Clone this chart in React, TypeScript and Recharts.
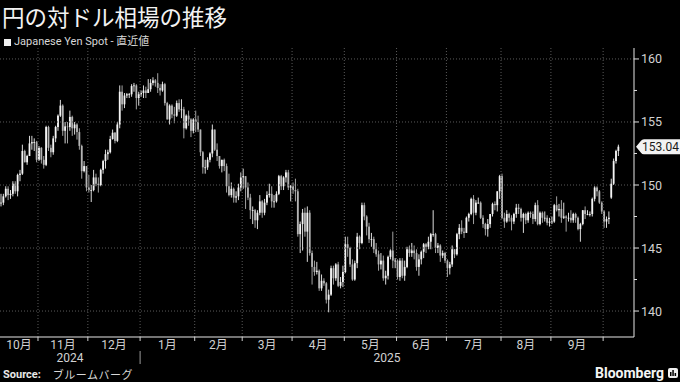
import { ComposedChart, Bar, XAxis, YAxis, ReferenceLine } from "recharts";

// month axis (trading days per month, Oct 2024 .. Oct 2025)
const monthLabels = ["10月", "11月", "12月", "1月", "2月", "3月", "4月", "5月", "6月", "7月", "8月", "9月", ""];
const monthDays = [16, 21, 22, 23, 20, 21, 22, 22, 21, 23, 21, 22, 7];
const yearLabels = ["2024", "2025"];
const yearFirstMonth = [0, 3];

const priceTicks = [140, 145, 150, 155, 160];
const minorTicks = [142.5, 147.5, 152.5, 157.5];
const lastPrice = 153.04;

// daily USD/JPY candles
const open = [
  148.6, 148.6, 149.1, 149.7, 149.2, 149.3, 150.1, 149.5, 150.8, 150.9, 152.7, 151.8, 152.3, 153.3, 153.4, 153.4,
  152.0, 152.95, 152.0, 151.6, 154.6, 152.95, 152.6, 153.7, 154.6, 155.5, 156.3, 154.3, 154.65, 154.6, 155.4, 154.5, 154.8, 154.2, 153.1, 151.1, 151.5,
  149.8, 149.6, 149.6, 150.6, 150.1, 150.0, 151.2, 151.9, 152.45, 152.6, 153.65, 154.15, 153.5, 154.8, 157.4, 156.4, 157.1, 157.2, 157.2, 157.85, 157.9, 156.9,
  157.2, 157.3, 157.5, 157.3, 157.6, 158.1, 158.3, 158.1, 157.7, 157.5, 158.0, 156.5, 155.2, 156.3, 155.6, 155.5, 156.5, 156.0, 156.0, 154.5, 155.5, 155.2, 154.3,
  155.2, 155.0, 154.4, 152.6, 151.4, 151.4, 152.0, 152.5, 154.4, 152.8, 152.3, 151.5, 152.0, 151.5, 149.9, 149.2, 149.7, 149.0, 149.1, 149.8,
  150.6, 150.7, 149.8, 149.0, 148.0, 148.0, 147.2, 147.8, 148.7, 147.8, 148.6, 149.2, 149.3, 148.7, 148.7, 149.3, 150.7, 149.9, 150.6, 151.0, 149.8,
  149.9, 149.6, 149.5, 146.1, 146.9, 147.8, 146.3, 147.8, 144.6, 143.5, 143.1, 143.2, 141.8, 142.4, 142.2, 140.9, 141.3, 143.4, 142.6, 143.7, 142.0, 142.3,
  143.1, 145.3, 145.0, 143.7, 142.5, 143.8, 145.9, 145.4, 148.4, 147.5, 146.7, 145.7, 145.7, 144.9, 144.5, 143.7, 144.0, 142.6, 142.8, 144.3, 144.8, 144.0,
  144.0, 142.7, 144.0, 142.8, 143.5, 144.9, 144.6, 144.8, 144.6, 143.5, 144.1, 144.7, 145.3, 145.1, 145.5, 146.1, 146.1, 145.0, 145.2, 144.4, 144.6,
  144.0, 143.4, 143.7, 144.9, 144.5, 146.1, 146.6, 146.3, 146.2, 147.4, 147.7, 148.9, 147.8, 148.6, 148.6, 147.4, 146.9, 146.5, 146.9, 147.7, 148.5, 148.4, 149.5,
  150.7, 147.4, 147.1, 147.7, 147.4, 147.1, 147.7, 148.2, 148.1, 147.4, 147.7, 147.2, 147.8, 147.7, 147.3, 148.4, 146.9, 147.8, 147.4, 147.4, 147.0,
  147.1, 147.1, 148.4, 148.0, 148.1, 147.4, 147.5, 147.4, 147.4, 147.2, 147.7, 147.4, 146.5, 146.9, 148.0, 147.7, 147.7, 147.7, 148.9, 149.8, 149.5, 148.6,
  147.9, 147.1, 147.3, 149.0, 150.1, 151.9, 152.7,
];
const high = [
  149.3, 149.3, 149.9, 149.9, 149.6, 150.3, 150.3, 150.9, 151.2, 153.2, 152.8, 152.4, 153.9, 153.9, 153.7, 153.5,
  153.1, 153.0, 152.3, 154.7, 154.7, 153.2, 153.9, 154.7, 155.6, 156.75, 156.4, 155.0, 155.0, 155.9, 155.5, 155.0, 154.9, 154.5, 153.2, 151.9, 151.5,
  150.8, 150.0, 151.2, 150.9, 150.6, 151.3, 152.0, 152.8, 152.8, 153.9, 154.4, 154.2, 155.0, 157.9, 157.9, 157.3, 157.3, 157.3, 158.0, 158.1, 158.0, 157.4,
  157.5, 157.9, 157.8, 158.4, 158.4, 158.55, 158.4, 158.87, 158.0, 158.2, 158.1, 156.6, 156.4, 156.4, 156.2, 156.7, 156.8, 156.8, 156.2, 155.6, 155.9, 155.3, 155.3,
  155.9, 155.5, 154.4, 152.7, 152.0, 152.2, 152.6, 154.8, 154.4, 153.3, 152.3, 152.0, 152.1, 151.7, 150.9, 150.2, 149.8, 149.5, 150.1, 151.0,
  151.3, 150.7, 150.2, 149.3, 148.3, 148.1, 148.0, 149.2, 148.8, 148.9, 149.5, 150.1, 149.9, 149.2, 149.5, 150.8, 150.8, 150.7, 151.2, 151.2, 150.0,
  150.2, 150.5, 149.7, 147.1, 148.1, 148.2, 148.3, 148.0, 144.8, 144.0, 143.9, 143.3, 142.9, 142.6, 142.3, 141.7, 143.6, 143.6, 143.8, 143.9, 142.7, 143.6,
  145.9, 145.9, 145.1, 144.1, 144.0, 146.2, 146.0, 148.6, 148.6, 147.6, 147.0, 146.2, 145.9, 145.4, 144.8, 144.6, 144.4, 143.2, 144.4, 144.9, 146.3, 144.2,
  144.1, 144.2, 144.2, 144.0, 145.1, 145.2, 145.4, 145.2, 144.9, 144.5, 144.8, 145.4, 145.4, 145.9, 146.2, 148.0, 146.2, 145.4, 145.3, 144.8, 144.7,
  144.1, 143.9, 145.2, 144.9, 146.2, 146.9, 147.2, 146.6, 147.5, 147.8, 149.0, 149.2, 148.8, 149.0, 148.7, 147.6, 147.0, 147.3, 147.7, 148.6, 148.7, 149.5, 150.8,
  150.9, 147.8, 148.0, 147.8, 147.6, 147.8, 148.5, 148.5, 148.2, 147.8, 147.8, 147.9, 147.9, 147.9, 148.6, 148.8, 147.9, 147.9, 147.9, 147.6, 147.4,
  147.5, 148.5, 149.1, 148.5, 148.8, 148.6, 147.6, 147.8, 148.0, 147.8, 147.8, 147.5, 147.0, 148.0, 148.3, 148.0, 147.9, 149.0, 149.9, 149.9, 149.6, 148.7,
  148.0, 147.5, 147.9, 150.5, 152.1, 152.8, 153.2,
];
const low = [
  148.3, 148.4, 149.0, 148.8, 148.9, 149.1, 149.3, 149.1, 150.3, 150.8, 151.8, 151.6, 152.3, 152.8, 152.7, 151.8,
  151.9, 151.7, 151.3, 151.5, 152.7, 152.2, 152.4, 153.4, 154.3, 155.4, 153.9, 153.3, 153.3, 154.3, 153.9, 154.0, 153.6, 152.8, 150.5, 151.0, 149.5,
  149.4, 148.65, 149.5, 149.9, 149.4, 149.9, 150.9, 151.3, 152.0, 152.5, 153.6, 153.3, 153.4, 154.5, 155.9, 156.1, 156.9, 156.9, 157.0, 157.4, 156.0, 156.3,
  157.0, 156.9, 156.9, 157.3, 157.4, 157.9, 157.8, 157.3, 157.1, 157.4, 156.3, 155.2, 154.8, 155.3, 154.9, 155.4, 155.8, 155.3, 153.7, 154.4, 154.7, 153.8, 154.1,
  154.2, 154.2, 152.3, 150.9, 150.9, 151.2, 151.8, 152.2, 152.7, 151.9, 151.3, 151.0, 151.1, 149.4, 149.1, 149.0, 148.6, 148.6, 148.8, 149.5,
  149.7, 148.1, 148.8, 147.3, 146.9, 146.6, 146.5, 147.6, 147.4, 147.6, 148.4, 149.0, 148.2, 148.2, 148.6, 149.2, 149.6, 149.6, 150.2, 149.6, 148.7,
  149.3, 148.7, 145.9, 144.6, 144.8, 145.9, 143.9, 144.4, 142.1, 142.8, 142.9, 141.6, 141.6, 142.0, 140.6, 139.9, 141.2, 142.1, 142.4, 141.9, 141.8, 141.9,
  143.0, 144.3, 143.5, 142.4, 142.4, 143.4, 144.9, 145.3, 147.2, 146.0, 145.4, 145.1, 144.6, 144.3, 143.2, 143.3, 142.4, 142.1, 142.5, 144.1, 143.4, 143.4,
  142.5, 142.4, 142.6, 142.4, 143.4, 144.3, 144.3, 144.1, 143.2, 142.8, 143.7, 144.2, 144.6, 144.9, 144.9, 145.9, 144.6, 144.6, 143.9, 144.2, 143.8,
  142.7, 142.9, 143.5, 144.2, 144.4, 145.7, 146.1, 145.8, 146.2, 147.1, 147.6, 146.9, 147.6, 148.5, 147.3, 146.6, 146.0, 145.9, 146.6, 147.5, 148.0, 147.9, 148.9,
  147.3, 146.6, 147.0, 147.1, 146.4, 146.9, 147.4, 147.7, 147.1, 146.2, 146.9, 147.0, 147.4, 146.9, 147.1, 146.8, 146.8, 147.0, 147.1, 146.8, 146.7,
  146.9, 147.0, 147.9, 147.5, 147.0, 147.3, 146.3, 147.1, 147.0, 147.0, 147.0, 146.4, 145.5, 146.8, 147.3, 147.6, 147.5, 147.5, 148.7, 149.1, 148.5, 147.7,
  146.6, 146.6, 146.9, 148.9, 150.0, 151.7, 152.3,
];
const close = [
  148.6, 149.1, 149.7, 149.2, 149.3, 150.1, 149.5, 150.8, 150.9, 152.7, 151.8, 152.3, 153.3, 153.4, 153.4, 152.0,
  152.95, 152.0, 151.6, 154.6, 152.95, 152.6, 153.7, 154.6, 155.5, 156.3, 154.3, 154.65, 154.6, 155.4, 154.5, 154.8, 154.2, 153.1, 151.1, 151.5, 149.8,
  149.6, 149.6, 150.6, 150.1, 150.0, 151.2, 151.9, 152.45, 152.6, 153.65, 154.15, 153.5, 154.8, 157.4, 156.4, 157.1, 157.2, 157.2, 157.85, 157.9, 156.9, 157.2,
  157.3, 157.5, 157.3, 157.6, 158.1, 158.3, 158.1, 157.7, 157.5, 158.0, 156.5, 155.2, 156.3, 155.6, 155.5, 156.5, 156.0, 156.0, 154.5, 155.5, 155.2, 154.3, 155.2,
  155.0, 154.4, 152.6, 151.4, 151.4, 152.0, 152.5, 154.4, 152.8, 152.3, 151.5, 152.0, 151.5, 149.9, 149.2, 149.7, 149.0, 149.1, 149.8, 150.6,
  150.7, 149.8, 149.0, 148.0, 148.0, 147.2, 147.8, 148.7, 147.8, 148.6, 149.2, 149.3, 148.7, 148.7, 149.3, 150.7, 149.9, 150.6, 151.0, 149.8, 149.9,
  149.6, 149.5, 146.1, 146.9, 147.8, 146.3, 147.8, 144.6, 143.5, 143.1, 143.2, 141.8, 142.4, 142.2, 140.9, 141.3, 143.4, 142.6, 143.7, 142.0, 142.3, 143.1,
  145.3, 145.0, 143.7, 142.5, 143.8, 145.9, 145.4, 148.4, 147.5, 146.7, 145.7, 145.7, 144.9, 144.5, 143.7, 144.0, 142.6, 142.8, 144.3, 144.8, 144.0, 144.0,
  142.7, 144.0, 142.8, 143.5, 144.9, 144.6, 144.8, 144.6, 143.5, 144.1, 144.7, 145.3, 145.1, 145.5, 146.1, 146.1, 145.0, 145.2, 144.4, 144.6, 144.0,
  143.4, 143.7, 144.9, 144.5, 146.1, 146.6, 146.3, 146.2, 147.4, 147.7, 148.9, 147.8, 148.6, 148.6, 147.4, 146.9, 146.5, 146.9, 147.7, 148.5, 148.4, 149.5, 150.7,
  147.4, 147.1, 147.7, 147.4, 147.1, 147.7, 148.2, 148.1, 147.4, 147.7, 147.2, 147.8, 147.7, 147.3, 148.4, 146.9, 147.8, 147.4, 147.4, 147.0, 147.1,
  147.1, 148.4, 148.0, 148.1, 147.4, 147.5, 147.4, 147.4, 147.2, 147.7, 147.4, 146.5, 146.9, 148.0, 147.7, 147.7, 147.7, 148.9, 149.8, 149.5, 148.6, 147.9,
  147.1, 147.3, 147.4, 150.1, 151.9, 152.7, 153.04,
];

// layout
const W = 680;
const H = 382;
const PLOT_TOP = 48;
const PLOT_RIGHT = 634;
const AXIS_Y = 337;
const X_AXIS_H = 30;
const X_MIN = -0.5;
const X_MAX = 266.5;
const Y_MIN = 137.94;
const Y_MAX = 160.87;
const TEXT = "#d2d2d2";
const GRID = "#5a5a5a";
const NUM_FONT = "Roboto, 'Noto Sans CJK JP', sans-serif";
const JP_FONT = "'Noto Sans CJK JP', sans-serif";

const data = close.map((c, i) => ({
  i,
  range: [low[i], high[i]],
  o: open[i],
  h: high[i],
  l: low[i],
  c,
}));

const monthStarts: number[] = [];
monthDays.reduce((acc, d) => {
  monthStarts.push(acc);
  return acc + d;
}, 0);
const boundaries = monthStarts.map((s) => s - 0.5);

const Candle = (props: any) => {
  const { x, y, width, height, payload } = props;
  if (!payload) return null;
  const { o, h, l, c } = payload;
  const top = Math.min(y, y + height);
  const hh = Math.abs(height);
  const span = h - l || 1;
  const yAt = (v: number) => top + ((h - v) / span) * hh;
  const bTop = yAt(Math.max(o, c));
  const bBot = yAt(Math.min(o, c));
  const cx = x + width / 2;
  const up = c >= o;
  const col = up ? "#f4f4f4" : "#b4b4b4";
  return (
    <g>
      <line x1={cx} x2={cx} y1={top} y2={top + hh} stroke={col} strokeWidth={0.9} />
      <rect x={cx - 0.9} y={bTop} width={1.8} height={Math.max(bBot - bTop, 0.8)} fill={col} />
    </g>
  );
};

const XTick = (props: any) => {
  const { x, y, index } = props;
  const ppd = PLOT_RIGHT / (X_MAX - X_MIN);
  const label = monthLabels[index];
  const mid = x + (monthDays[index] * ppd) / 2;
  const yi = yearFirstMonth.indexOf(index);
  let yearEl = null;
  if (yi >= 0) {
    const nextFirst = yearFirstMonth[yi + 1];
    const spanDays =
      nextFirst !== undefined
        ? monthDays.slice(index, nextFirst).reduce((a, b) => a + b, 0)
        : X_MAX - boundaries[index];
    yearEl = (
      <g>
        {index > 0 && <line x1={x} x2={x} y1={y + 14} y2={y + 27} stroke="#9a9a9a" strokeWidth={1} />}
        <text x={x + (spanDays * ppd) / 2} y={y + 25} textAnchor="middle" fill={TEXT} fontSize={12} fontFamily={NUM_FONT}>
          {yearLabels[yi]}
        </text>
      </g>
    );
  }
  return (
    <g>
      {index > 0 && <line x1={x} x2={x} y1={y} y2={y + 4} stroke="#cfcfcf" strokeWidth={1} />}
      {label && (
        <text x={mid} y={y + 12} textAnchor="middle" fill={TEXT} fontSize={12} fontFamily={NUM_FONT}>
          {label}
        </text>
      )}
      {yearEl}
    </g>
  );
};

const YTick = (props: any) => {
  const { x, y, payload } = props;
  const v = payload.value;
  if (v === lastPrice) {
    return (
      <g>
        <path
          d={`M${x + 2},${y} L${x + 7},${y - 6} Q${x + 8},${y - 7.5} ${x + 10},${y - 7.5} L${x + 46},${y - 7.5} L${x + 46},${y + 7.5} L${x + 10},${y + 7.5} Q${x + 8},${y + 7.5} ${x + 7},${y + 6} Z`}
          fill="#f2f2f2"
        />
        <text x={x + 8} y={y + 4.5} fill="#1a1a1a" fontSize={12} fontFamily={NUM_FONT}>
          {lastPrice.toFixed(2)}
        </text>
      </g>
    );
  }
  const major = priceTicks.includes(v);
  return (
    <g>
      <line x1={x} x2={x + (major ? 5 : 3)} y1={y} y2={y} stroke="#e0e0e0" strokeWidth={1} />
      {major && (
        <text x={x + 7} y={y + 4.5} fill={TEXT} fontSize={12.5} fontFamily={NUM_FONT}>
          {v}
        </text>
      )}
    </g>
  );
};

const yTicks = [...priceTicks, ...minorTicks, lastPrice].sort((a, b) => a - b);

export default function App() {
  return (
    <div
      style={{
        position: "fixed",
        left: 0,
        top: 0,
        width: W,
        height: H,
        background: "#000",
        overflow: "hidden",
      }}
    >
      <div
        style={{
          position: "absolute",
          left: 2,
          top: 1,
          color: "#f2f2f2",
          fontSize: 22.5,
          fontFamily: JP_FONT,
          lineHeight: "30px",
          whiteSpace: "nowrap",
        }}
      >
        円の対ドル相場の推移
      </div>
      <div
        style={{
          position: "absolute",
          left: 4,
          top: 34,
          color: "#d8d8d8",
          fontSize: 11,
          fontFamily: "Roboto, 'Noto Sans CJK JP', sans-serif",
          lineHeight: "16px",
          whiteSpace: "nowrap",
          display: "flex",
          alignItems: "center",
        }}
      >
        <span style={{ display: "inline-block", width: 7, height: 7, background: "#f0f0f0", marginRight: 3 }} />
        Japanese Yen Spot - 直近値
      </div>
      <div style={{ position: "absolute", left: 0, top: 0 }}>
        <ComposedChart
          width={W}
          height={H}
          data={data}
          margin={{ top: PLOT_TOP, right: 0, bottom: H - AXIS_Y - X_AXIS_H, left: 0 }}
        >
          <XAxis
            dataKey="i"
            type="number"
            domain={[X_MIN, X_MAX]}
            ticks={boundaries}
            interval={0}
            allowDataOverflow
            height={X_AXIS_H}
            tickSize={0}
            tickMargin={0}
            tickLine={false}
            axisLine={{ stroke: "#e6e6e6", strokeWidth: 1 }}
            tick={<XTick />}
          />
          <YAxis
            orientation="right"
            type="number"
            domain={[Y_MIN, Y_MAX]}
            ticks={yTicks}
            interval={0}
            allowDataOverflow
            width={W - PLOT_RIGHT}
            tickSize={0}
            tickMargin={0}
            tickLine={false}
            axisLine={{ stroke: "#e6e6e6", strokeWidth: 1 }}
            tick={<YTick />}
          />
          {priceTicks.map((p) => (
            <ReferenceLine key={`h${p}`} y={p} stroke={GRID} strokeDasharray="1 2" />
          ))}
          {boundaries.slice(1).map((b) => (
            <ReferenceLine key={`v${b}`} x={b} stroke={GRID} strokeDasharray="1 2" />
          ))}
          <Bar dataKey="range" barSize={2} shape={<Candle />} isAnimationActive={false} />
        </ComposedChart>
      </div>
      <div
        style={{
          position: "absolute",
          left: 3,
          top: 368,
          color: "#d8d8d8",
          fontSize: 11,
          fontFamily: JP_FONT,
          lineHeight: "13px",
          whiteSpace: "nowrap",
          display: "flex",
          alignItems: "center",
        }}
      >
        <span style={{ fontWeight: 700, fontFamily: "Roboto, sans-serif", color: "#e8e8e8", marginRight: 12 }}>
          Source:
        </span>
        <span style={{ letterSpacing: 0.5 }}>ブルームバーグ</span>
      </div>
      <div
        style={{
          position: "absolute",
          left: 595,
          top: 366,
          color: "#f4f4f4",
          fontSize: 14,
          fontWeight: 700,
          fontFamily: "Roboto, sans-serif",
          lineHeight: "15px",
          whiteSpace: "nowrap",
          display: "flex",
          alignItems: "center",
        }}
      >
        Bloomberg
        <svg width={11} height={11} style={{ marginLeft: 4 }}>
          <rect x={0} y={0} width={10} height={10} rx={2} fill="#f0f0f0" />
          <rect x={2} y={4} width={1.5} height={4} fill="#000" />
          <rect x={4.3} y={2} width={1.5} height={6} fill="#000" />
          <rect x={6.6} y={5} width={1.5} height={3} fill="#000" />
        </svg>
      </div>
    </div>
  );
}
